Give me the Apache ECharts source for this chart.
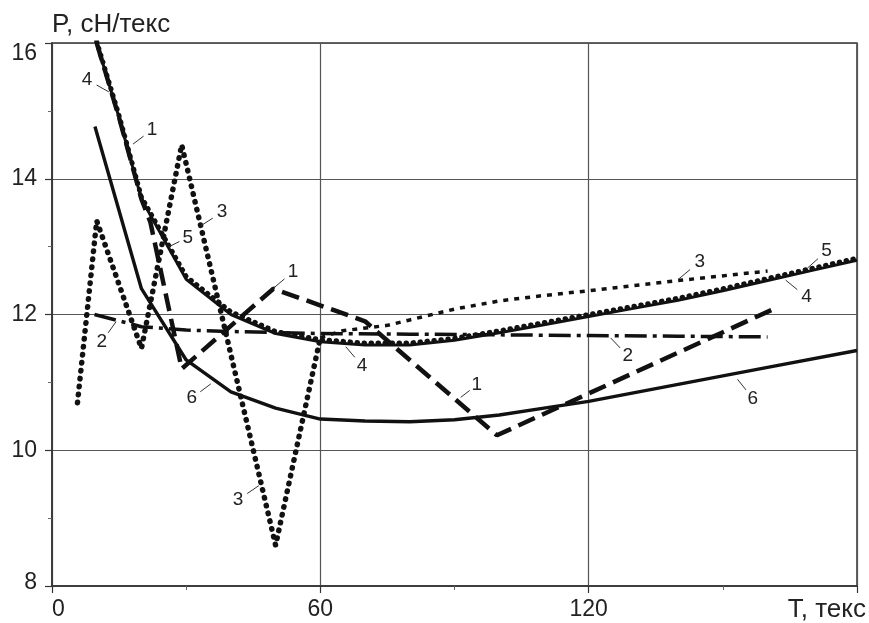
<!DOCTYPE html>
<html>
<head>
<meta charset="utf-8">
<script src="https://cdn.jsdelivr.net/npm/echarts@6/dist/echarts.min.js"></script>
<style>
  html, body { margin: 0; padding: 0; background: #fff; }
  #chart { width: 869px; height: 623px; }
</style>
</head>
<body>
<div id="chart"></div>
<script>
// Breaking tenacity P (cN/tex) versus linear density T (tex), curves 1–6
const curve1X = [10, 15, 20, 22, 29, 49.5, 70, 99.5, 162];
const curve1Y = [16.0, 14.9, 13.7, 13.36, 11.2, 12.38, 11.9, 10.22, 12.1];

const curve2X = [9.5, 20, 30, 40, 60, 80, 100, 120, 140, 160];
const curve2Y = [12.0, 11.82, 11.77, 11.75, 11.72, 11.71, 11.7, 11.69, 11.68, 11.67];

const curve3aX = [5.7, 10, 20, 29, 50, 60];
const curve3aY = [10.7, 13.38, 11.5, 14.5, 8.6, 11.66];
const curve3bX = [60, 65, 75, 80, 90, 100, 110, 120, 140, 160];
const curve3bY = [11.66, 11.76, 11.84, 11.92, 12.08, 12.2, 12.28, 12.35, 12.5, 12.64];

const curve4X = [10, 15, 20, 30, 40, 50, 60, 70, 80, 90, 100, 110, 120, 130, 140, 150, 160, 170, 180];
const curve4Y = [16.0, 14.9, 13.7, 12.52, 12.0, 11.72, 11.6, 11.55, 11.55, 11.62, 11.73, 11.85, 11.97, 12.09, 12.21, 12.35, 12.5, 12.65, 12.8];

const curve5X = [10, 15, 20, 30, 40, 50, 60, 70, 80, 90, 100, 110, 120, 130, 140, 150, 160, 170, 180];
const curve5Y = [16.02, 14.93, 13.73, 12.56, 12.04, 11.75, 11.63, 11.58, 11.58, 11.65, 11.76, 11.88, 12.0, 12.12, 12.24, 12.38, 12.53, 12.68, 12.83];

const curve6X = [9.6, 20, 30, 40, 50, 60, 70, 80, 90, 100, 110, 120, 140, 160, 180];
const curve6Y = [14.77, 12.38, 11.33, 10.86, 10.62, 10.46, 10.43, 10.42, 10.45, 10.52, 10.62, 10.72, 10.97, 11.22, 11.47];

const xTicks = [0, 60, 120];
const yTicks = [8, 10, 12, 14, 16];

// curve number labels: anchor on the curve (data units) and label offset (px)
const curveLabels = [
  { text: '4', x: 12.96, y: 15.27, dx: -23, dy: -13 },
  { text: '1', x: 17.9,  y: 14.5,  dx: 20,  dy: -15 },
  { text: '3', x: 33.1,  y: 13.3,  dx: 22,  dy: -14 },
  { text: '5', x: 25.9,  y: 12.99, dx: 20,  dy: -10 },
  { text: '1', x: 49.4,  y: 12.38, dx: 20,  dy: -17 },
  { text: '2', x: 14.5,  y: 11.91, dx: -15, dy: 21 },
  { text: '6', x: 35.75, y: 10.99, dx: -20, dy: 15 },
  { text: '3', x: 46.5,  y: 9.49,  dx: -22, dy: 15 },
  { text: '4', x: 65.5,  y: 11.54, dx: 17,  dy: 20 },
  { text: '1', x: 91.2,  y: 10.77, dx: 17,  dy: -13 },
  { text: '3', x: 139.7, y: 12.5,  dx: 23,  dy: -19 },
  { text: '2', x: 124.7, y: 11.67, dx: 18,  dy: 19 },
  { text: '5', x: 168.7, y: 12.67, dx: 20,  dy: -18 },
  { text: '4', x: 163.8, y: 12.52, dx: 22,  dy: 18 },
  { text: '6', x: 153.1, y: 11.06, dx: 16,  dy: 20 }
];

const pairs = (xs, ys) => xs.map((x, i) => [x, ys[i]]);
const FONT = 'Liberation Sans, Arial, sans-serif';
const INK = '#111';

function lineSeries(name, xs, ys, lineStyle, z) {
  return {
    name: name,
    type: 'line',
    data: pairs(xs, ys),
    symbol: 'none',
    showSymbol: false,
    smooth: false,
    clip: true,
    z: z,
    lineStyle: Object.assign({ color: INK }, lineStyle),
    emphasis: { disabled: true }
  };
}

const chart = echarts.init(document.getElementById('chart'), null, { renderer: 'canvas' });

chart.setOption({
  animation: false,
  backgroundColor: '#fff',
  grid: {
    left: 52, right: 10, top: 43, bottom: 35,
    show: true, borderColor: '#333', borderWidth: 1.5, backgroundColor: 'transparent'
  },
  xAxis: {
    type: 'value', min: 0, max: 180, interval: 60,
    name: 'Т, текс',
    nameLocation: 'end',
    nameGap: 9,
    nameTextStyle: { fontFamily: FONT, fontSize: 26, color: '#222', align: 'right', verticalAlign: 'top', padding: [11, 0, 0, 0] },
    axisLine: { show: true, lineStyle: { color: '#333', width: 1.5 } },
    axisTick: { show: true, length: 7, lineStyle: { color: '#333', width: 1.2 } },
    minorTick: { show: true, splitNumber: 2, length: 4, lineStyle: { color: '#666', width: 1 } },
    splitLine: { show: true, lineStyle: { color: '#555', width: 1.2 } },
    axisLabel: {
      fontFamily: FONT, fontSize: 23, color: '#222', margin: 12,
      alignMinLabel: 'left',
      formatter: v => (xTicks.indexOf(v) >= 0 ? String(v) : '')
    }
  },
  yAxis: {
    type: 'value', min: 8, max: 16, interval: 2,
    name: 'P, сН/текс',
    nameLocation: 'end',
    nameGap: 5,
    nameTextStyle: { fontFamily: FONT, fontSize: 26, color: '#222', align: 'left' },
    axisLine: { show: true, lineStyle: { color: '#333', width: 1.5 } },
    axisTick: { show: true, length: 7, lineStyle: { color: '#333', width: 1.2 } },
    minorTick: { show: true, splitNumber: 2, length: 4, lineStyle: { color: '#666', width: 1 } },
    splitLine: { show: true, lineStyle: { color: '#555', width: 1.2 } },
    axisLabel: {
      fontFamily: FONT, fontSize: 23, color: '#222', margin: 15,
      formatter: v => {
        if (yTicks.indexOf(v) < 0) return '';
        if (v === 16) return '{top|16}';
        if (v === 8) return '{bot|8}';
        return String(v);
      },
      rich: {
        top: { fontFamily: FONT, fontSize: 23, color: '#222', padding: [22, 0, 0, 0] },
        bot: { fontFamily: FONT, fontSize: 23, color: '#222', padding: [0, 0, 6, 0] }
      }
    }
  },
  series: [
    lineSeries('6', curve6X, curve6Y, { width: 3.4, type: 'solid' }, 3),
    lineSeries('2', curve2X, curve2Y, { width: 3.5, type: [22, 6, 4, 6] }, 3),
    lineSeries('3a', curve3aX, curve3aY, { width: 5.5, type: [0.5, 7.5], cap: 'round' }, 4),
    lineSeries('3b', curve3bX, curve3bY, { width: 3.5, type: [5, 6], cap: 'butt' }, 4),
    lineSeries('4', curve4X, curve4Y, { width: 3, type: 'solid' }, 5),
    lineSeries('5', curve5X, curve5Y, { width: 5, type: [0.5, 6.5], cap: 'round' }, 6),
    lineSeries('1', curve1X, curve1Y, { width: 4.5, type: [18, 8], cap: 'butt' }, 7)
  ]
});

// curve number labels with short leader lines, placed through the chart's own scales
const graphics = [];
curveLabels.forEach(lbl => {
  const p = chart.convertToPixel({ gridIndex: 0 }, [lbl.x, lbl.y]);
  const lx = p[0] + lbl.dx, ly = p[1] + lbl.dy;
  graphics.push({
    type: 'line', silent: true, z: 20,
    shape: { x1: p[0] + lbl.dx * 0.05, y1: p[1] + lbl.dy * 0.05, x2: p[0] + lbl.dx * 0.58, y2: p[1] + lbl.dy * 0.58 },
    style: { stroke: '#333', lineWidth: 1 }
  });
  graphics.push({
    type: 'text', silent: true, z: 21,
    style: { text: lbl.text, x: lx, y: ly, align: 'center', verticalAlign: 'middle', font: '19px ' + FONT, fill: '#222' }
  });
});
chart.setOption({ graphic: graphics });
</script>
</body>
</html>
